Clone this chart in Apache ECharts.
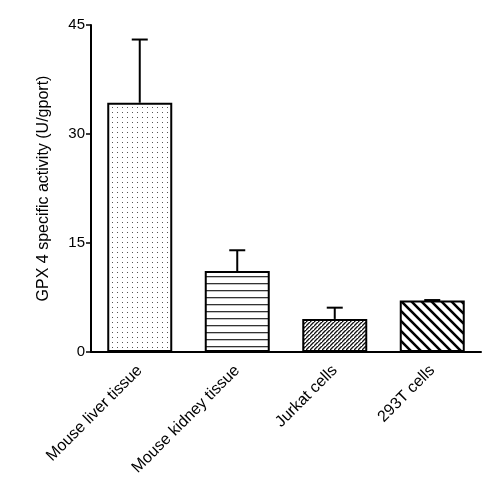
<!DOCTYPE html>
<html><head><meta charset="utf-8">
<script src="https://cdn.jsdelivr.net/npm/echarts@6/dist/echarts.min.js"></script>
<style>html,body{margin:0;padding:0;background:#fff}#c{width:504px;height:483px}</style>
</head><body><div id="c"></div>
<script>
const categories = ["Mouse liver tissue", "Mouse kidney tissue", "Jurkat cells", "293T cells"];
const means = [34.3, 11.15, 4.55, 7.1];
const errors = [8.7, 2.85, 1.55, 0.05];
const yTicks = [0, 15, 30, 45];

function pat(w, h, draw) {
  const c = document.createElement('canvas');
  c.width = w; c.height = h;
  const g = c.getContext('2d');
  g.fillStyle = '#fff'; g.fillRect(0, 0, w, h);
  draw(g, w, h);
  return { image: c, repeat: 'repeat' };
}
const patterns = [
  pat(5, 5, (g) => { g.fillStyle = '#555'; g.fillRect(2, 2, 1, 1); }),
  pat(8, 7, (g) => { g.fillStyle = '#333'; g.fillRect(0, 3, 8, 1.3); }),
  pat(4, 4, (g) => { g.strokeStyle = '#111'; g.lineWidth = 1.3;
    g.beginPath(); g.moveTo(-1, 5); g.lineTo(5, -1); g.moveTo(-1, 1); g.lineTo(1, -1); g.moveTo(3, 5); g.lineTo(5, 3); g.stroke();
    g.fillStyle = '#fff'; g.fillRect(1, 1, 1, 1); }),
  pat(10, 10, (g) => { g.strokeStyle = '#000'; g.lineWidth = 2.6;
    g.beginPath(); g.moveTo(-2, -2); g.lineTo(12, 12); g.moveTo(-7, 3); g.lineTo(3, 13); g.moveTo(7, -3); g.lineTo(13, 3); g.stroke(); })
];

const chart = echarts.init(document.getElementById('c'));
chart.setOption({
  animation: false,
  grid: { left: 91, right: 23, top: 25, bottom: 131, containLabel: false },
  xAxis: {
    type: 'category', data: categories, boundaryGap: true,
    axisLine: { lineStyle: { color: '#000', width: 2 } },
    axisTick: { alignWithLabel: true, length: 4, lineStyle: { color: '#000', width: 1.5 } },
    axisLabel: { rotate: 45, margin: 16, color: '#000', fontFamily: 'Liberation Sans, Arial', fontSize: 16, interval: 0 }
  },
  yAxis: {
    type: 'value', min: 0, max: 45, interval: 15,
    name: 'GPX 4 specific activity (U/gport)', nameLocation: 'middle', nameGap: 39,
    nameTextStyle: { color: '#000', fontFamily: 'Liberation Sans, Arial', fontSize: 16 },
    axisLine: { show: true, lineStyle: { color: '#000', width: 2 } },
    axisTick: { show: true, length: 5, lineStyle: { color: '#000', width: 1.5 } },
    axisLabel: { margin: 6, color: '#000', fontFamily: 'Liberation Sans, Arial', fontSize: 15,
      formatter: (v) => yTicks.includes(v) ? String(v) : '' },
    splitLine: { show: false }
  },
  series: [
    {
      type: 'bar', barWidth: 65,
      data: means.map((v, i) => ({ value: v, itemStyle: { color: patterns[i] } })),
      itemStyle: { borderColor: '#000', borderWidth: 2 },
      z: 2
    },
    {
      type: 'custom', z: 1,
      data: means.map((m, i) => [i, m, m + errors[i]]),
      renderItem: (params, api) => {
        const base = api.coord([api.value(0), api.value(1)]);
        const top = api.coord([api.value(0), api.value(2)]);
        const half = 8;
        return {
          type: 'group',
          children: [
            { type: 'line', shape: { x1: base[0], y1: base[1], x2: top[0], y2: top[1] }, style: { stroke: '#000', lineWidth: 2 } },
            { type: 'line', shape: { x1: top[0] - half, y1: top[1], x2: top[0] + half, y2: top[1] }, style: { stroke: '#000', lineWidth: 2 } }
          ]
        };
      }
    }
  ]
});
</script></body></html>
